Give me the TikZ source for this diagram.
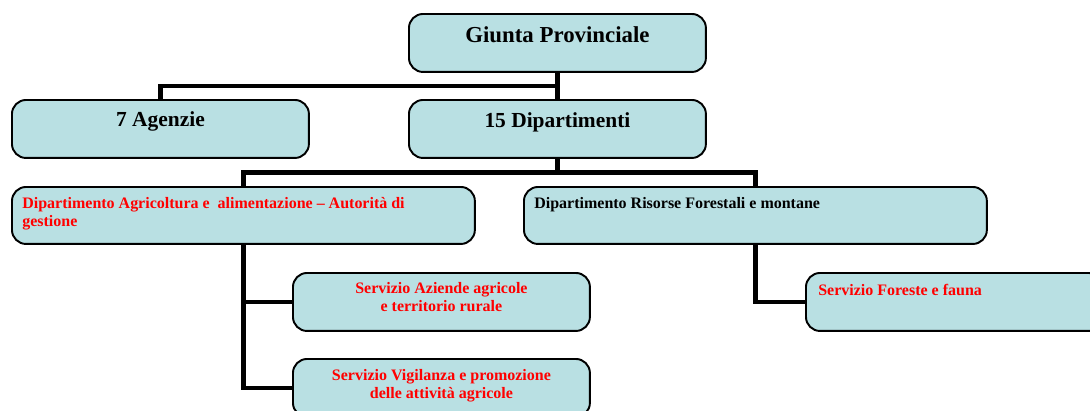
\documentclass[tikz,border=0pt]{standalone}
\usepackage{fontspec}
\setmainfont{Liberation Serif}
\usetikzlibrary{calc}
\definecolor{BoxFill}{HTML}{B9E0E3}
\definecolor{Red}{HTML}{FF0000}
\tikzset{
  unit/.style={draw=black,line width=1.1pt,fill=BoxFill,rounded corners=8pt,
    minimum width=5.94cm,minimum height=1.16cm,anchor=north west,inner sep=0pt},
  dept/.style={unit,minimum width=9.26cm,minimum height=1.14cm},
  title/.style={font=\fontsize{12.2}{14}\selectfont\bfseries,anchor=base,inner sep=0pt},
  small/.style={font=\fontsize{9.1}{10.3}\selectfont\bfseries,inner sep=0pt},
  link/.style={draw=black,line width=2.8pt}
}

\begin{document}
\begin{tikzpicture}[x=0.02cm,y=-0.02cm]
  \useasboundingbox (0,0) rectangle (1090,410);
  % boxes
  \node[unit] (giunta) at (408,13) {};
  \node[unit] (agenzie) at (11,99) {};
  \node[unit] (dip) at (408,99) {};
  \node[dept] (agri) at (11,186) {};
  \node[dept] (risorse) at (523,186) {};
  \node[unit] (aziende) at (292,272) {};
  \node[unit] (vigilanza) at (292,358) {};
  \node[unit] (foreste) at (805,272) {};
  % links
  \coordinate (top) at ($(giunta.south)!.5!(dip.north)$);
  \coordinate (mid) at ($(dip.south)!.5!(dip.south |- agri.north)$);
  \draw[link] (giunta.south) -- (dip.north);
  \draw[link] (agenzie.north) |- (top);
  \draw[link] (dip.south) -- (mid);
  \draw[link] (agri.north) |- (mid) -| (risorse.north);
  \draw[link] (agri.south) |- (aziende.west);
  \draw[link] (agri.south) |- (vigilanza.west);
  \draw[link] (risorse.south) |- (foreste.west);
  % texts
  \node[title,font=\fontsize{13}{15}\selectfont\bfseries] (giuntaT) at ($(giunta.north)+(0,29)$) {Giunta Provinciale};
  \node[title] (agenzieT) at ($(agenzie.north)+(0,27)$) {7 Agenzie};
  \node[title] (dipT) at ($(dip.north)+(0,28)$) {15 Dipartimenti};
  \node[small,text=Red,align=left,anchor=north west] (agriT) at ($(agri.north west)+(11,11)$)
    {Dipartimento Agricoltura e \ alimentazione -- Autorità di\\gestione};
  \node[small,anchor=base west] (risorseT) at ($(risorse.north west)+(11,22)$)
    {Dipartimento Risorse Forestali e montane};
  \node[small,text=Red,align=center,anchor=north] (azT) at ($(aziende.north)+(0,10)$)
    {Servizio Aziende agricole\\e territorio rurale};
  \node[small,text=Red,align=center,anchor=north] (vigT) at ($(vigilanza.north)+(0,11)$)
    {Servizio Vigilanza e promozione\\delle attività agricole};
  \node[small,text=Red,anchor=base west] (foresteT) at ($(foreste.north west)+(13,23)$)
    {Servizio Foreste e fauna};
\end{tikzpicture}
\end{document}
